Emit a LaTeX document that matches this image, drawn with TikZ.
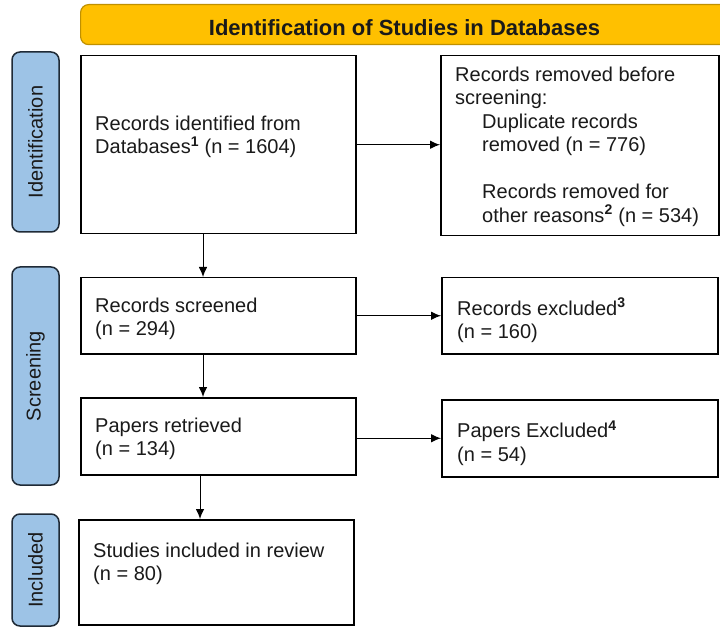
\documentclass[tikz,border=0pt]{standalone}
\usepackage{fontspec}
\setmainfont{Liberation Sans}
\usetikzlibrary{arrows.meta,calc}
\definecolor{hdrfill}{HTML}{FFC000}
\definecolor{hdrline}{HTML}{BF9000}
\definecolor{sidefill}{HTML}{9DC3E6}
\definecolor{sideline}{HTML}{1F2A36}
\definecolor{txtcol}{HTML}{1A1A1A}
\begin{document}
\begin{tikzpicture}[x=1pt,y=-1pt,
  box/.style={draw=black,line width=1.5pt,fill=white,inner sep=0pt,anchor=north west},
  txt/.style={font=\fontsize{20}{23.5}\selectfont,text=txtcol,align=left,inner sep=0pt,anchor=north west},
  side/.style={draw=sideline,fill=sidefill,line width=1.5pt,rounded corners=8pt,inner sep=0pt,rotate=90,minimum height=47pt,text=txtcol,font=\fontsize{20}{24}\selectfont},
  arr/.style={line width=1pt,-{Latex[length=10pt,width=8.5pt]}}]
\useasboundingbox (0,0) rectangle (720,628);
% header
\node[draw=hdrline,fill=hdrfill,line width=1.2pt,rounded corners=8pt,anchor=north west,minimum width=660pt,minimum height=40pt,inner sep=0pt] (hdr) at (80,4) {};
\node[font=\bfseries\fontsize{22}{26}\selectfont,text=txtcol,inner sep=0pt] (hdrtxt) at (404.5,28) {Identification of Studies in Databases};
% side labels
\node[side,minimum width=180pt] (sid) at (35.5,142) {Identification};
\node[side,minimum width=218pt] (ssc) at (35.5,376) {Screening};
\node[side,minimum width=112pt] (sin) at (35.5,570) {Included};
% main boxes
\node[box,minimum width=275pt,minimum height=178pt] (b1) at (80,55) {};
\node[box,minimum width=275pt,minimum height=76pt] (b2) at (80,277) {};
\node[box,minimum width=275pt,minimum height=77pt] (b3) at (80,397) {};
\node[box,minimum width=275pt,minimum height=105pt] (b4) at (78,519) {};
\node[box,minimum width=278pt,minimum height=180pt] (r1) at (440,55) {};
\node[box,minimum width=276pt,minimum height=76pt] (r2) at (441,277) {};
\node[box,minimum width=276pt,minimum height=77pt] (r3) at (441,399) {};
% texts
\node[txt] (t1) at (95,115.5) {Records identified from\\Databases\textsuperscript{\textbf{1}} (n = 1604)};
\node[txt] (t2) at (95,297.5) {Records screened\\(n = 294)};
\node[txt] (t3) at (95,417.5) {Papers retrieved\\(n = 134)};
\node[txt] (t4) at (93,542.5) {Studies included in review\\(n = 80)};
\node[txt] (u1) at (455,66.5) {Records removed before\\screening:\\\hspace*{27pt}Duplicate records\\\hspace*{27pt}removed (n = 776)\\[23.5pt]\hspace*{27pt}Records removed for\\\hspace*{27pt}other reasons\textsuperscript{\textbf{2}} (n = 534)};
\node[txt] (u2) at (457,297.5) {Records excluded\textsuperscript{\textbf{3}}\\(n = 160)};
\node[txt] (u3) at (457,420.5) {Papers Excluded\textsuperscript{\textbf{4}}\\(n = 54)};
% arrows
\coordinate (ax1) at (203,0);
\coordinate (ax2) at (200,0);
\draw[arr] (b1.south -| ax1) -- (b2.north -| ax1);
\draw[arr] (b2.south -| ax1) -- (b3.north -| ax1);
\draw[arr] (b3.south -| ax2) -- (b4.north -| ax2);
\draw[arr] (b1.east) -- (b1.east -| r1.west);
\draw[arr] (b2.east) -- (b2.east -| r2.west);
\draw[arr] (r3.west -| b3.east) -- (r3.west);
\end{tikzpicture}
\end{document}
